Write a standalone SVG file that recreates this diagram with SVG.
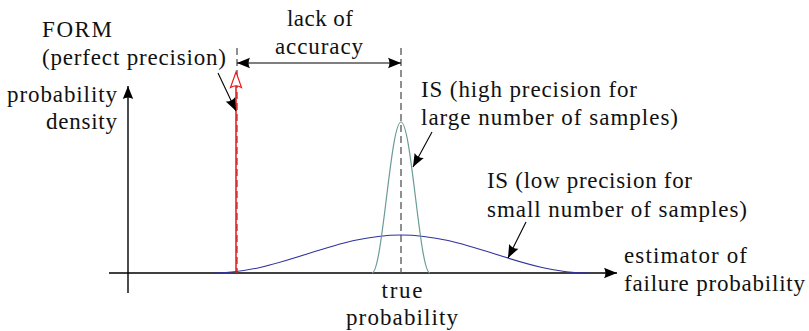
<svg xmlns="http://www.w3.org/2000/svg" width="809" height="331" viewBox="0 0 809 331">
<style>
.ax{stroke:#000;stroke-width:1.4;fill:none}
.dash{stroke:#555;stroke-width:1.3;stroke-dasharray:7 4;fill:none}
.call{stroke:#000;stroke-width:1.1;fill:none}
</style>
<defs>
<marker id="ah" markerUnits="userSpaceOnUse" markerWidth="16" markerHeight="12" viewBox="-13 -6 14 12" refX="0" refY="0" orient="auto-start-reverse">
<path d="M0,0 L-13,-5.2 Q-10,0 -13,5.2 Z" fill="#000"/>
</marker>
</defs>
<rect width="809" height="331" fill="#fff"/>
<g id="axes">
<line class="ax" x1="128" y1="293" x2="128" y2="86" marker-end="url(#ah)"/>
<line class="ax" x1="109" y1="273" x2="617" y2="273" marker-end="url(#ah)"/>
</g>
<g id="guides">
<line class="dash" x1="237" y1="48" x2="237" y2="273"/>
<line class="dash" x1="401" y1="48" x2="401" y2="273"/>
</g>
<g id="curve-low">
<path d="M213,273 C228.67,273 244.33,270.95 260,267.43 C275.67,263.91 291.33,258.97 307,254 C322.67,249.03 338.33,244.09 354,240.57 C369.67,237.05 385.33,235 401,235 C416.67,235 432.33,237.05 448,240.57 C463.67,244.09 479.33,249.03 495,254 C510.67,258.97 526.33,263.91 542,267.43 C557.67,270.95 573.33,273 589,273" fill="none" stroke="#3030a0" stroke-width="1.1"/>
</g>
<g id="curve-high">
<path d="M372,273 C374.42,273 376.83,264.87 379.25,250.89 C381.67,236.91 384.08,217.27 386.5,197.5 C388.92,177.73 391.33,158.09 393.75,144.11 C396.17,130.13 398.58,122 401,122 C403.42,122 405.83,130.13 408.25,144.11 C410.67,158.09 413.08,177.73 415.5,197.5 C417.92,217.27 420.33,236.91 422.75,250.89 C425.17,264.87 427.58,273 430,273" fill="none" stroke="#6b9b96" stroke-width="1.2"/>
</g>
<g id="form">
<line x1="236" y1="273" x2="236" y2="85" stroke="#e81515" stroke-width="1.5"/>
<path d="M236,72 L230.5,87.5 Q236,84 241.5,87.5 Z" fill="#fff" stroke="#e81515" stroke-width="1.1"/>
</g>
<g id="connectors">
<line class="call" x1="237" y1="63" x2="401" y2="63" marker-start="url(#ah)" marker-end="url(#ah)"/>
<line class="call" x1="218" y1="73" x2="236" y2="111" marker-end="url(#ah)"/>
<line class="call" x1="432" y1="132" x2="413" y2="167" marker-end="url(#ah)"/>
<line class="call" x1="526" y1="222" x2="508" y2="258" marker-end="url(#ah)"/>
</g>
<g id="labels" fill="#111">
<text font-family="Liberation Serif" font-size="23" x="320" y="26" text-anchor="middle" textLength="66">lack of</text>
<text font-family="Liberation Serif" font-size="23" x="319" y="54" text-anchor="middle" textLength="88">accuracy</text>
<text font-family="Liberation Serif" font-size="23" x="42" y="37" textLength="70">FORM</text>
<text font-family="Liberation Serif" font-size="23" x="42" y="65" textLength="184">(perfect precision)</text>
<text font-family="Liberation Serif" font-size="23" x="117" y="102" text-anchor="end" textLength="110">probability</text>
<text font-family="Liberation Serif" font-size="23" x="117" y="129" text-anchor="end" textLength="71">density</text>
<text font-family="Liberation Serif" font-size="23" x="421" y="97" textLength="216">IS (high precision for</text>
<text font-family="Liberation Serif" font-size="23" x="421" y="125" textLength="257">large number of samples)</text>
<text font-family="Liberation Serif" font-size="23" x="487" y="188" textLength="205">IS (low precision for</text>
<text font-family="Liberation Serif" font-size="23" x="487" y="217" textLength="260">small number of samples)</text>
<text font-family="Liberation Serif" font-size="23" x="624" y="263" textLength="123">estimator of</text>
<text font-family="Liberation Serif" font-size="23" x="624" y="291" textLength="181">failure probability</text>
<text font-family="Liberation Serif" font-size="23" x="402" y="298" text-anchor="middle" textLength="41">true</text>
<text font-family="Liberation Serif" font-size="23" x="402" y="325" text-anchor="middle" textLength="112">probability</text>
</g>
</svg>
